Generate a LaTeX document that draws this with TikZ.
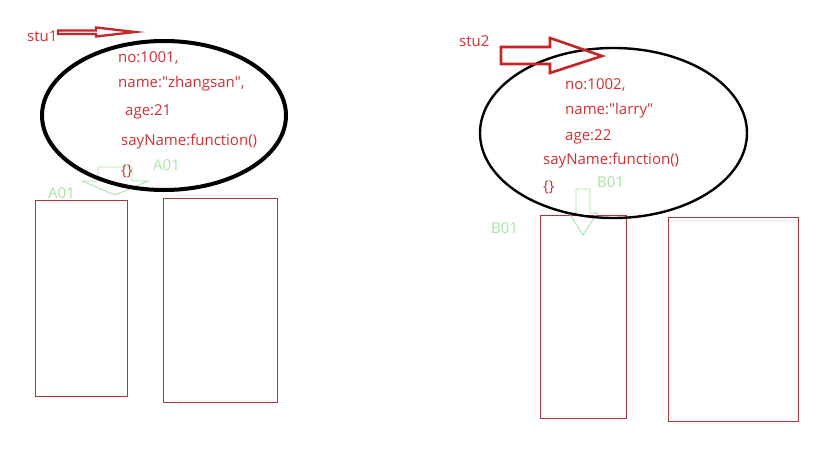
\documentclass[tikz,border=0pt]{standalone}
\usepackage{fontspec}
\setmainfont{Open Sans}
\usetikzlibrary{shapes.geometric}
\definecolor{txtred}{RGB}{208,48,52}
\definecolor{arrred}{RGB}{200,36,40}
\definecolor{boxred}{RGB}{168,56,60}
\definecolor{lgreen}{RGB}{168,228,168}
\begin{document}
\begin{tikzpicture}[x=1pt,y=-1pt,
  lbl/.style={anchor=west,inner sep=0pt,text=txtred,font=\fontsize{15}{18}\selectfont},
  glbl/.style={anchor=west,inner sep=0pt,text=lgreen,font=\fontsize{15}{18}\selectfont},
  membox/.style={draw=boxred,line width=1pt,inner sep=0pt},
  obj/.style={ellipse,draw=black,inner sep=0pt},
  redarrow/.style={draw=arrred,line join=miter},
  greenarrow/.style={draw=lgreen,line width=0.9pt}
]
\useasboundingbox (0,0) rectangle (819,460);
\fill[white] (0,0) rectangle (819,460);

% memory boxes
\node[membox,minimum width=92pt,minimum height=196pt] (L1) at (81,298) {};
\node[membox,minimum width=114pt,minimum height=204pt] (L2) at (220,300) {};
\node[membox,minimum width=86pt,minimum height=203pt] (R1) at (583,316.5) {};
\node[membox,minimum width=130pt,minimum height=204pt] (R2) at (733,319) {};

% green pointer arrows
\draw[greenarrow] (98,167) -- (132,167) -- (132,181) -- (148,181) -- (115,195) -- (82,181) -- (98,181) -- cycle;
\draw[greenarrow] (576,189) -- (590,189) -- (590,213) -- (597,213) -- (583,235) -- (569,213) -- (576,213) -- cycle;

% objects
\node[obj,line width=4pt,minimum width=244pt,minimum height=149pt] (O1) at (164,115.5) {};
\node[obj,line width=2.4pt,minimum width=267pt,minimum height=170pt] (O2) at (613.5,133) {};

% red reference arrows
\draw[redarrow,line width=2.3pt] (58,30.5) -- (96,30.5) -- (96,27.5) -- (135,32) -- (96,36.5) -- (96,34) -- (58,34) -- cycle;
\draw[redarrow,line width=2.6pt] (501,47) -- (550,47) -- (550,38) -- (602,56) -- (550,73) -- (550,64) -- (501,64) -- cycle;

% labels
\node[lbl] (s1) at (27,36) {stu1};
\node[lbl] (s2) at (459,41) {stu2};

\node[lbl] (a1) at (118,58) {no:1001,};
\node[lbl] (a2) at (118,84) {name:\textquotedbl zhangsan\textquotedbl,};
\node[lbl] (a3) at (125,112) {age:21};
\node[lbl] (a4) at (121,142) {sayName:function()};
\node[lbl] (a5) at (121,171) {\{\}};

\node[lbl] (b1) at (565,85) {no:1002,};
\node[lbl] (b2) at (565,111) {name:\textquotedbl larry\textquotedbl};
\node[lbl] (b3) at (565,137) {age:22};
\node[lbl] (b4) at (543,161) {sayName:function()};
\node[lbl] (b5) at (543,187) {\{\}};

\node[glbl] (g1) at (153,165) {A01};
\node[glbl] (g2) at (48,193) {A01};
\node[glbl] (g3) at (597,182) {B01};
\node[glbl] (g4) at (491,228) {B01};
\end{tikzpicture}
\end{document}
